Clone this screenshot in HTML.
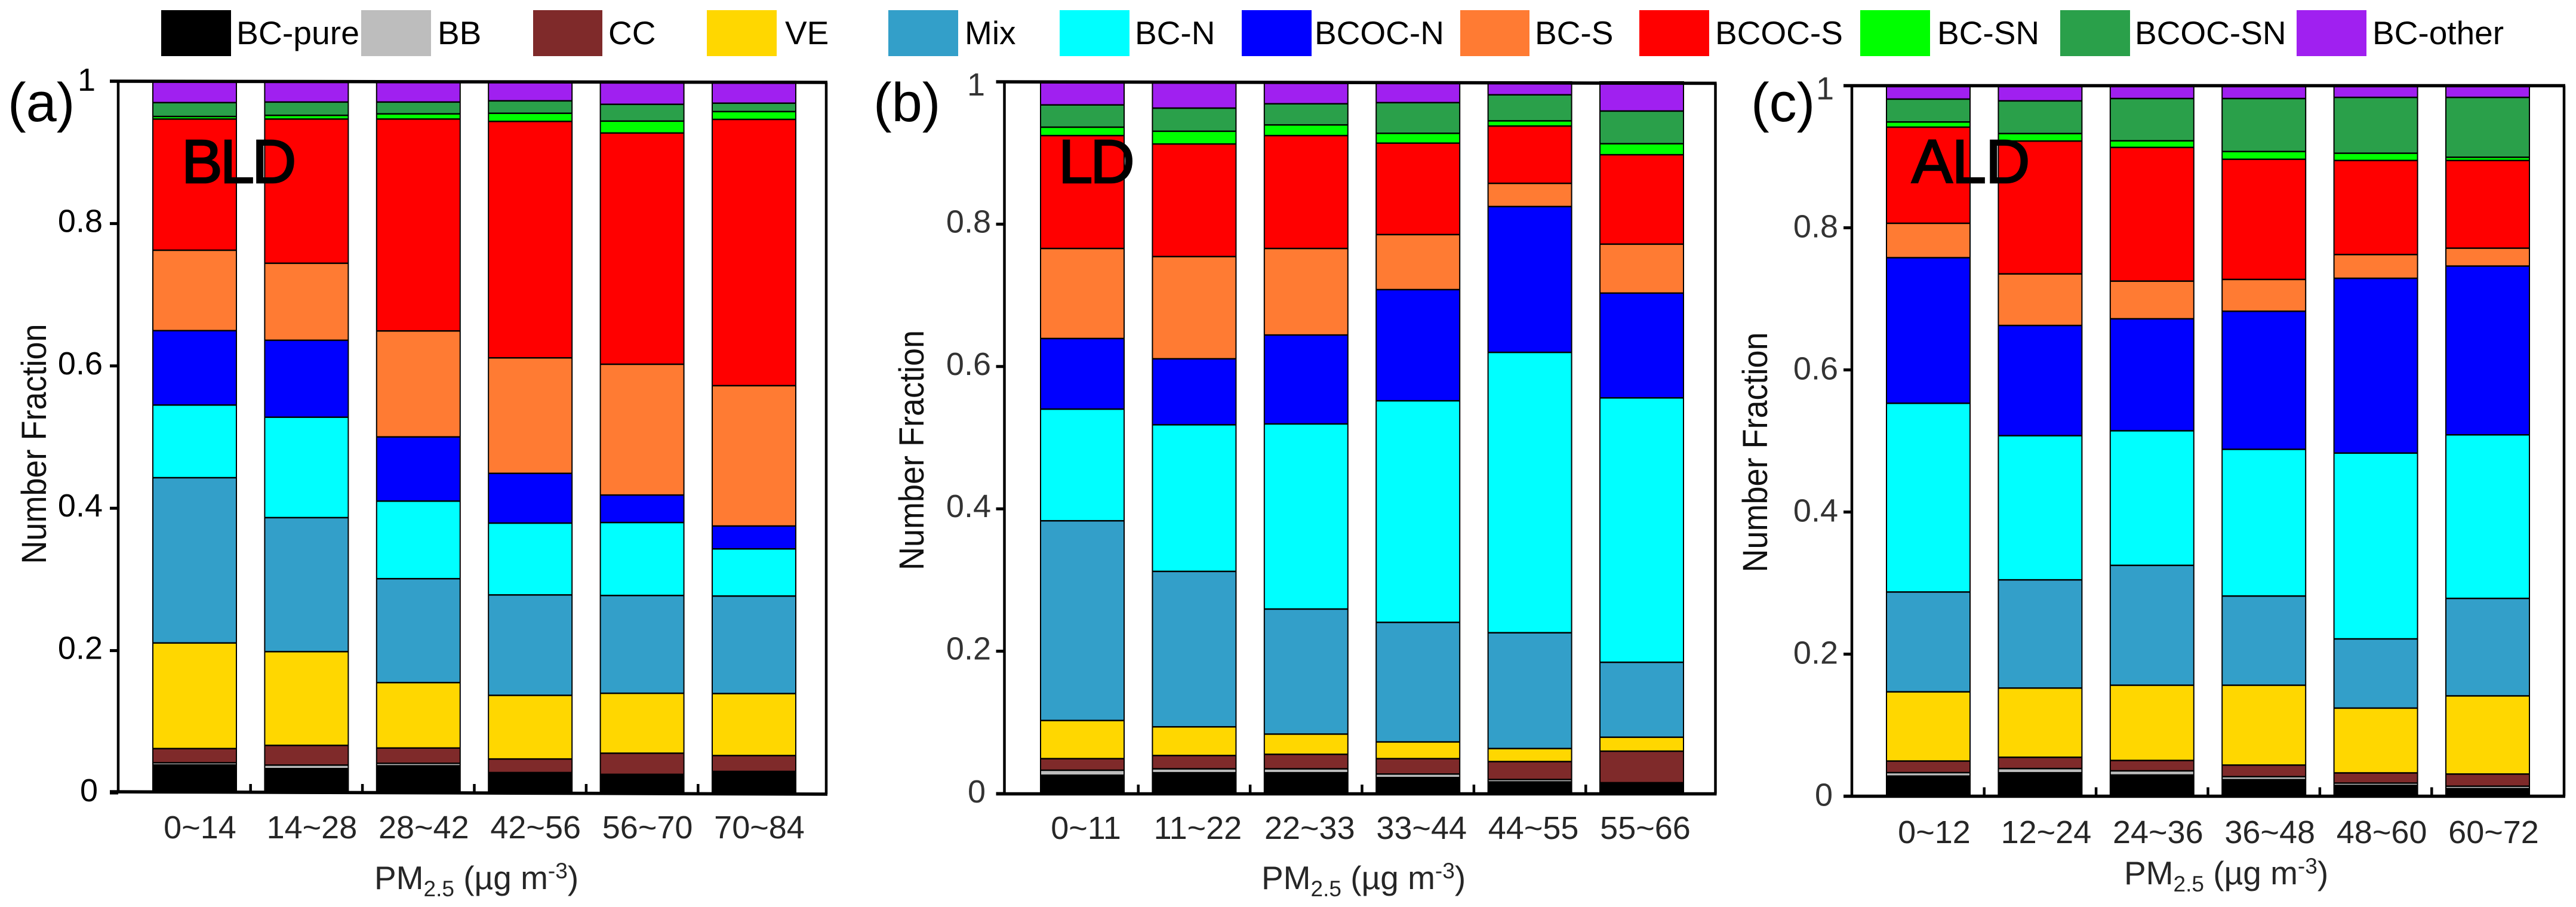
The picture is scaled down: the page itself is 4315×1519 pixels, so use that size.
<!DOCTYPE html>
<html lang="en">
<head>
<meta charset="utf-8">
<title>Number fraction of BC particle types by PM2.5</title>
<style>
html,body{margin:0;padding:0;background:#fff;}
body{width:4315px;height:1519px;overflow:hidden;}
svg{display:block;font-family:"Liberation Sans",Arial,sans-serif;}
</style>
</head>
<body>
<svg id="chart" xmlns="http://www.w3.org/2000/svg" width="4315" height="1519" viewBox="0 0 4315 1519">
  <rect x="0" y="0" width="4315" height="1519" fill="#fff"/>

  <g id="panels"></g>

  <g font-size="55" fill="#000">
    <g><rect x="270" y="17" width="117" height="77" fill="#000000"/><text x="396" y="74" textLength="206" lengthAdjust="spacingAndGlyphs">BC-pure</text></g>
    <g><rect x="605" y="17" width="117" height="77" fill="#bdbdbd"/><text x="733" y="74">BB</text></g>
    <g><rect x="893" y="17" width="116" height="77" fill="#7f2a2a"/><text x="1019" y="74">CC</text></g>
    <g><rect x="1184" y="17" width="117" height="77" fill="#ffd700"/><text x="1315" y="74">VE</text></g>
    <g><rect x="1488" y="17" width="117" height="77" fill="#339fc9"/><text x="1616" y="74">Mix</text></g>
    <g><rect x="1775" y="17" width="117" height="77" fill="#00ffff"/><text x="1901" y="74">BC-N</text></g>
    <g><rect x="2080" y="17" width="117" height="77" fill="#0000ff"/><text x="2202" y="74">BCOC-N</text></g>
    <g><rect x="2446" y="17" width="116" height="77" fill="#ff7b33"/><text x="2571" y="74">BC-S</text></g>
    <g><rect x="2746" y="17" width="117" height="77" fill="#ff0000"/><text x="2873" y="74">BCOC-S</text></g>
    <g><rect x="3116" y="17" width="117" height="77" fill="#00ff00"/><text x="3245" y="74">BC-SN</text></g>
    <g><rect x="3451" y="17" width="117" height="77" fill="#2aa04a"/><text x="3576" y="74">BCOC-SN</text></g>
    <g><rect x="3847" y="17" width="117" height="77" fill="#a020f0"/><text x="3974" y="74">BC-other</text></g>
  </g>

  <text x="13" y="203" font-size="92" fill="#000">(a)</text>
  <text x="1463" y="203" font-size="92" fill="#000">(b)</text>
  <text x="2933" y="203" font-size="92" fill="#000">(c)</text>

  <text x="304" y="306" font-size="103" letter-spacing="-4" fill="#000" stroke="#000" stroke-width="2.5">BLD</text>
  <text x="1773" y="306" font-size="103" letter-spacing="-4" fill="#000" stroke="#000" stroke-width="2.5">LD</text>
  <text x="3202" y="306" font-size="103" letter-spacing="-1" fill="#000" stroke="#000" stroke-width="2.5">ALD</text>

  <text transform="translate(77 743.5) rotate(-90)" text-anchor="middle" font-size="58" textLength="402" lengthAdjust="spacingAndGlyphs" fill="#111">Number Fraction</text>
  <text transform="translate(1547 754) rotate(-90)" text-anchor="middle" font-size="58" textLength="402" lengthAdjust="spacingAndGlyphs" fill="#111">Number Fraction</text>
  <text transform="translate(2960 757.5) rotate(-90)" text-anchor="middle" font-size="58" textLength="402" lengthAdjust="spacingAndGlyphs" fill="#111">Number Fraction</text>

  <text x="627" y="1489" font-size="55" fill="#262626">PM<tspan font-size="37" dy="12">2.5</tspan><tspan dy="-12"> (µg m</tspan><tspan font-size="37" dy="-18">-3</tspan><tspan dy="18">)</tspan></text>
  <text x="2113" y="1489" font-size="55" fill="#262626">PM<tspan font-size="37" dy="12">2.5</tspan><tspan dy="-12"> (µg m</tspan><tspan font-size="37" dy="-18">-3</tspan><tspan dy="18">)</tspan></text>
  <text x="3558" y="1481" font-size="55" fill="#262626">PM<tspan font-size="37" dy="12">2.5</tspan><tspan dy="-12"> (µg m</tspan><tspan font-size="37" dy="-18">-3</tspan><tspan dy="18">)</tspan></text>
</svg>

<script>
// Series order, bottom of stack to top
const seriesKeys = ['bc-pure','bb','cc','ve','mix','bc-n','bcoc-n','bc-s','bcoc-s','bc-sn','bcoc-sn','bc-other'];
const seriesColors = ['#000000','#bdbdbd','#7f2a2a','#ffd700','#339fc9','#00ffff','#0000ff','#ff7b33','#ff0000','#00ff00','#2aa04a','#a020f0'];

// Tick values and labels
const yTickValues = [0,0.2,0.4,0.6,0.8,1];
const yTickLabels = ['0','0.2','0.4','0.6','0.8','1'];

// Categories
const catsA = ['0~14','14~28','28~42','42~56','56~70','70~84'];
const catsB = ['0~11','11~22','22~33','33~44','44~55','55~66'];
const catsC = ['0~12','12~24','24~36','36~48','48~60','60~72'];

// Panel (a) BLD
const aPure   = [.0405,.0353,.0393,.0280,.0255,.0296];
const aBB     = [.0013,.0032,.0017,0,0,0];
const aCC     = [.0199,.0277,.0215,.0191,.0297,.0223];
const aVE     = [.1484,.1317,.0919,.0894,.0842,.0871];
const aMix    = [.2322,.1883,.1460,.1411,.1374,.1370];
const aBCN    = [.1021,.1411,.1090,.1009,.1025,.0663];
const aBCOCN  = [.1045,.1081,.0902,.0699,.0386,.0321];
const aBCS    = [.1130,.1082,.1489,.1623,.1838,.1972];
const aBCOCS  = [.1843,.2026,.2977,.3322,.3249,.3741];
const aBCSN   = [.0036,.0052,.0073,.0114,.0167,.0110];
const aBCOCSN = [.0195,.0187,.0166,.0175,.0236,.0118];
const aOther  = [.0307,.0299,.0299,.0282,.0331,.0315];

// Panel (b) LD
const bPure   = [.0268,.0304,.0304,.0236,.0175,.0146];
const bBB     = [.0053,.0037,.0037,.0032,.0016,0];
const bCC     = [.0163,.0187,.0204,.0216,.0252,.0443];
const bVE     = [.0536,.0403,.0284,.0235,.0183,.0196];
const bMix    = [.2806,.2184,.1757,.1680,.1627,.1053];
const bBCN    = [.1569,.2060,.2601,.3113,.3939,.3715];
const bBCOCN  = [.0992,.0927,.1249,.1562,.2049,.1472];
const bBCS    = [.1265,.1436,.1216,.0773,.0326,.0688];
const bBCOCS  = [.1586,.1582,.1586,.1285,.0805,.1256];
const bBCSN   = [.0118,.0179,.0150,.0138,.0073,.0155];
const bBCOCSN = [.0313,.0325,.0297,.0431,.0366,.0459];
const bOther  = [.0331,.0376,.0315,.0299,.0189,.0417];

// Panel (c) ALD
const cPure   = [.0294,.0342,.0310,.0245,.0163,.0118];
const cBB     = [.0032,.0041,.0041,.0024,.0016,.0017];
const cCC     = [.0163,.0159,.0146,.0163,.0143,.0171];
const cVE     = [.0974,.0974,.1059,.1124,.0912,.1100];
const cMix    = [.1405,.1523,.1687,.1255,.0974,.1372];
const cBCN    = [.2656,.2029,.1894,.2065,.2615,.2302];
const cBCOCN  = [.2049,.1551,.1576,.1943,.2460,.2375];
const cBCS    = [.0484,.0726,.0530,.0448,.0334,.0252];
const cBCOCS  = [.1353,.1869,.1882,.1691,.1324,.1234];
const cBCSN   = [.0073,.0106,.0093,.0109,.0102,.0045];
const cBCOCSN = [.0322,.0460,.0595,.0746,.0786,.0843];
const cOther  = [.0195,.0220,.0187,.0187,.0171,.0171];

const SVG_NS = 'http://www.w3.org/2000/svg';

function svgEl(tag, parent, attrs) {
  const el = document.createElementNS(SVG_NS, tag);
  for (const k in attrs) el.setAttribute(k, attrs[k]);
  parent.appendChild(el);
  return el;
}

function drawPanel(p) {
  const root = document.getElementById('panels');
  const g = svgEl('g', root, {});
  
  

  const yScale = function (v) { return p.y0 + (p.y1 - p.y0) * v; };
  const xScale = function (i) { return p.barStart + p.band * i; };
  const barW = 140;

  // bars
  p.cats.forEach(function (cat, i) {
    const barG = svgEl('g', g, {});
    
    
    const left = xScale(i) - barW / 2;
    let cum = 0;
    p.series.forEach(function (vals, s) {
      const yBot = yScale(cum);
      cum += vals[i];
      const yTop = yScale(cum);
      const seg = svgEl('rect', barG, {x: left, y: yTop, width: barW, height: Math.max(0, yBot - yTop), fill: seriesColors[s]});
      
      
    });
    cum = 0;
    p.series.forEach(function (vals, s) {
      cum += vals[i];
      if (s === 0 || s === p.series.length - 1) return;
      const yTop = yScale(cum);
      const div = svgEl('rect', barG, {x: left, y: yTop - 2, width: barW, height: 2.5, fill: '#000'});
      
      
    });
    const outline = svgEl('rect', barG, {x: left, y: yScale(cum), width: barW, height: yScale(0) - yScale(cum), fill: 'none', stroke: '#000', 'stroke-width': 2});
    
    

    const lab = svgEl('text', g, {x: xScale(i) + p.labelShift, y: p.xLabelY, 'text-anchor': 'middle', 'font-size': 54, fill: '#262626'});
    lab.textContent = cat;
    
    

    if (i < p.cats.length - 1) {
      const xt = xScale(i) + p.band / 2;
      const tick = svgEl('line', g, {x1: xt, x2: xt, y1: yScale(0) - 15, y2: yScale(0), stroke: '#000', 'stroke-width': 4.5});
      
      
    }
  });

  // frame
  const left = svgEl('line', g, {x1: p.left, x2: p.left, y1: p.topL, y2: p.botL, stroke: '#000', 'stroke-width': 4.5});
  
  
  const right = svgEl('line', g, {x1: p.right, x2: p.right, y1: p.topR, y2: p.botR, stroke: '#000', 'stroke-width': 4.5});
  
  
  const top = svgEl('line', g, {x1: p.left - 14, x2: p.right + 2, y1: p.topL, y2: p.topR, stroke: '#000', 'stroke-width': 5.5});
  
  
  const bottom = svgEl('line', g, {x1: p.left - 14, x2: p.right + 2, y1: p.botL, y2: p.botR, stroke: '#000', 'stroke-width': 5.5});
  
  

  // y ticks
  yTickValues.forEach(function (v, i) {
    const yy = yScale(v);
    const t = svgEl('line', g, {x1: p.left - 14, x2: p.left, y1: yy, y2: yy, stroke: '#000', 'stroke-width': 5});
    
    
    const whole = (v === 0 || v === 1);
    const anchorX = v === 0 ? p.zeroEnd : (v === 1 ? p.oneEnd : p.fracEnd);
    const dy = v === 1 ? p.oneDy : (v === 0 ? p.zeroDy : p.fracDy);
    const lab = svgEl('text', g, {x: anchorX, y: yy + dy, 'text-anchor': 'end', 'font-size': 54, fill: p.tickColor});
    lab.textContent = yTickLabels[i];
    
    
  });
}

drawPanel({
  id: 'a', cats: catsA,
  series: [aPure,aBB,aCC,aVE,aMix,aBCN,aBCOCN,aBCS,aBCOCS,aBCSN,aBCOCSN,aOther],
  y0: 1328, y1: 136, barStart: 326, band: 187.4, labelShift: 9, xLabelY: 1404,
  left: 198, right: 1384, topL: 136, topR: 138, botL: 1326, botR: 1330,
  fracEnd: 172, zeroEnd: 164, oneEnd: 160, fracDy: 14, zeroDy: 14, oneDy: 16, tickColor: '#000'
});
drawPanel({
  id: 'b', cats: catsB,
  series: [bPure,bBB,bCC,bVE,bMix,bBCN,bBCOCN,bBCS,bBCOCS,bBCSN,bBCOCSN,bOther],
  y0: 1329, y1: 137, barStart: 1813, band: 187.4, labelShift: 6, xLabelY: 1405,
  left: 1682.5, right: 2873.5, topL: 137, topR: 139.5, botL: 1329.5, botR: 1329.5,
  fracEnd: 1660, zeroEnd: 1651, oneEnd: 1650, fracDy: 14, zeroDy: 15, oneDy: 23, tickColor: '#333'
});
drawPanel({
  id: 'c', cats: catsC,
  series: [cPure,cBB,cCC,cVE,cMix,cBCN,cBCOCN,cBCS,cBCOCS,cBCSN,cBCOCSN,cOther],
  y0: 1333.5, y1: 143.5, barStart: 3230, band: 187.4, labelShift: 10, xLabelY: 1412,
  left: 3102, right: 4295, topL: 143.5, topR: 143.5, botL: 1333.5, botR: 1333.5,
  fracEnd: 3079, zeroEnd: 3070, oneEnd: 3072, fracDy: 16, zeroDy: 16, oneDy: 23, tickColor: '#333'
});
</script>
</body>
</html>
